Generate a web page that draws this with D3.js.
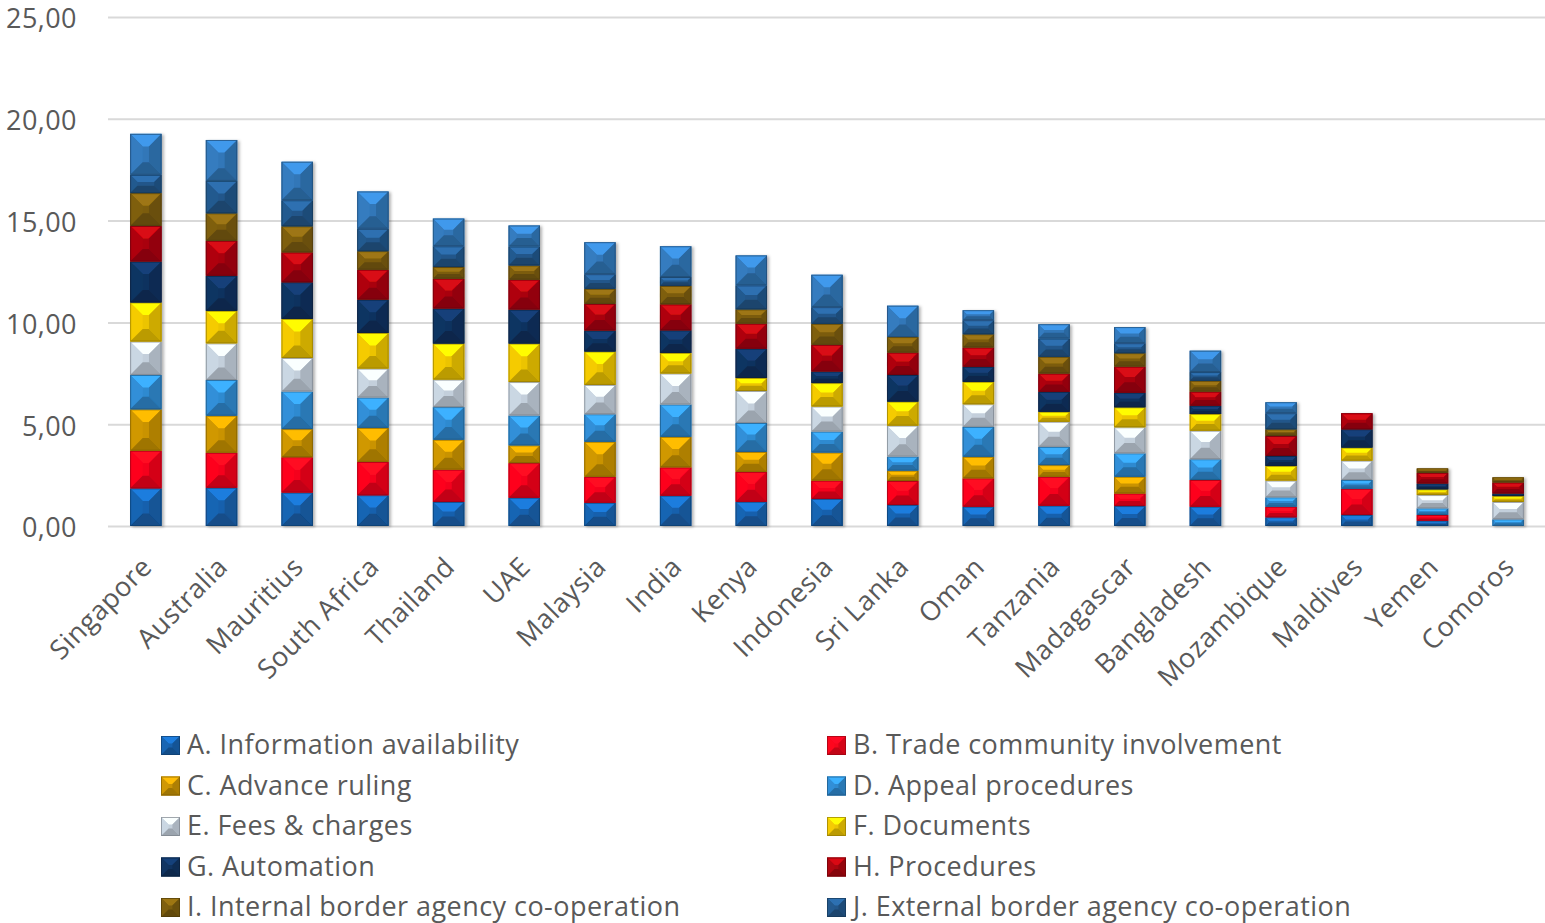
<!DOCTYPE html>
<html>
<head>
<meta charset="utf-8">
<script src="https://cdn.jsdelivr.net/npm/d3@7/dist/d3.min.js"></script>
<style>
  html, body { margin: 0; padding: 0; background: #ffffff; }
  svg { display: block; font-family: "Open Sans", "Noto Sans", sans-serif; }
</style>
</head>
<body>
<svg id="chart" width="1545" height="923"></svg>
<script>
// Countries, ordered by total score
const countries = ["Singapore", "Australia", "Mauritius", "South Africa", "Thailand", "UAE",
  "Malaysia", "India", "Kenya", "Indonesia", "Sri Lanka", "Oman", "Tanzania", "Madagascar",
  "Bangladesh", "Mozambique", "Maldives", "Yemen", "Comoros"];

// Indicator scores per country (same order as countries)
const infoAvailability   = [1.85, 1.88, 1.64, 1.51, 1.18, 1.39, 1.14, 1.49, 1.19, 1.33, 1.03, 0.95, 1.00, 0.98, 0.95, 0.43, 0.54, 0.26, 0.00];
const tradeCommunity     = [1.85, 1.72, 1.74, 1.64, 1.59, 1.70, 1.28, 1.39, 1.47, 0.90, 1.18, 1.39, 1.42, 0.62, 1.31, 0.52, 1.29, 0.28, 0.00];
const advanceRuling      = [2.03, 1.82, 1.38, 1.67, 1.47, 0.87, 1.72, 1.50, 0.98, 1.38, 0.51, 1.06, 0.57, 0.82, 0.00, 0.00, 0.00, 0.00, 0.00];
const appealProcedures   = [1.69, 1.75, 1.85, 1.49, 1.60, 1.47, 1.35, 1.59, 1.42, 1.03, 0.69, 1.47, 0.90, 1.15, 1.02, 0.46, 0.43, 0.33, 0.33];
const feesCharges        = [1.64, 1.80, 1.64, 1.42, 1.35, 1.64, 1.44, 1.52, 1.57, 1.23, 1.52, 1.11, 1.23, 1.28, 1.40, 0.82, 0.95, 0.65, 0.85];
const documents          = [1.92, 1.60, 1.92, 1.75, 1.77, 1.89, 1.64, 1.01, 0.64, 1.15, 1.18, 1.10, 0.49, 0.98, 0.82, 0.72, 0.64, 0.28, 0.29];
const automation         = [2.01, 1.72, 1.80, 1.64, 1.72, 1.67, 1.03, 1.11, 1.44, 0.57, 1.31, 0.74, 0.98, 0.72, 0.41, 0.49, 0.90, 0.29, 0.13];
const procedures         = [1.75, 1.72, 1.47, 1.47, 1.47, 1.47, 1.31, 1.28, 1.23, 1.31, 1.10, 0.95, 0.90, 1.28, 0.69, 0.98, 0.79, 0.52, 0.54];
const internalCoop       = [1.61, 1.35, 1.28, 0.91, 0.57, 0.70, 0.74, 0.90, 0.70, 1.03, 0.76, 0.65, 0.82, 0.66, 0.53, 0.33, 0.00, 0.22, 0.25];
const externalCoop       = [0.90, 1.59, 1.28, 1.10, 1.02, 0.93, 0.72, 0.44, 1.18, 0.82, 0.00, 0.69, 0.90, 0.49, 0.43, 0.79, 0.00, 0.00, 0.00];
const governance         = [2.01, 2.01, 1.89, 1.83, 1.36, 1.03, 1.57, 1.51, 1.47, 1.59, 1.54, 0.49, 0.70, 0.79, 1.05, 0.54, 0.00, 0.00, 0.00];

const seriesNames = [
  "A. Information availability", "B. Trade community involvement", "C. Advance ruling",
  "D. Appeal procedures", "E. Fees & charges", "F. Documents", "G. Automation",
  "H. Procedures", "I. Internal border agency co-operation",
  "J. External border agency co-operation", "K. Governance and impartiality"
];
const seriesValues = [infoAvailability, tradeCommunity, advanceRuling, appealProcedures,
  feesCharges, documents, automation, procedures, internalCoop, externalCoop, governance];
const seriesColors = ["#1761ad", "#f5061c", "#c99305", "#2f8ad0", "#c3cfdb", "#ecc404",
  "#10335f", "#a9060f", "#7b5c0e", "#23578a", "#3277b8"];

// legend rows that fit inside the frame (A–J)
const legendCount = 10;

const yTicks = [0, 5, 10, 15, 20, 25];

const svg = d3.select("#chart");
const plot = { left: 108, right: 1546, top: 17, bottom: 526 };
const textStyle = sel => sel.attr("fill", "#595959").style("font-size", "27px").style("letter-spacing", "0.45px");

const x = d3.scaleBand().domain(countries).range([plot.left, plot.right])
  .paddingInner(0.585).paddingOuter(0.2925);
const y = d3.scaleLinear().domain([0, 25]).range([plot.bottom, plot.top]);
const fmt = v => d3.format(".2f")(v).replace(".", ",");

// drop shadow for the bar columns
const defs = svg.append("defs");
const shadow = defs.append("filter").attr("id", "shadow")
  .attr("x", "-30%").attr("y", "-10%").attr("width", "160%").attr("height", "120%");
shadow.append("feDropShadow").attr("dx", 2).attr("dy", 1).attr("stdDeviation", 1.6)
  .attr("flood-color", "#000").attr("flood-opacity", 0.3);

// gridlines and value axis
const yAxis = d3.axisLeft(y).tickValues(yTicks).tickSize(-(plot.right - plot.left)).tickFormat(fmt).tickPadding(31);
const yg = svg.append("g").attr("transform", `translate(${plot.left},0)`).call(yAxis);
yg.select(".domain").remove();
yg.selectAll(".tick line").attr("stroke", "#d9d9d9").attr("stroke-width", 2);
yg.selectAll(".tick text").call(textStyle).style("font-family", '"Open Sans", sans-serif')
  .attr("dy", "0.4em");

// stacked data
const table = countries.map((c, i) => {
  const row = { country: c };
  seriesNames.forEach((s, j) => { row[s] = seriesValues[j][i]; });
  return row;
});
const stacked = d3.stack().keys(seriesNames)(table);

// beveled block: four facets around a flat centre
function bevel(g, x0, y0, w, h, color) {
  if (h <= 0.2) return;
  const c = d3.color(color);
  const b = Math.min(w, h) * 0.4;
  const x1 = x0 + w, y1 = y0 + h;
  const poly = (pts, fill) => g.append("polygon")
    .attr("points", pts.map(p => p.join(",")).join(" ")).attr("fill", fill);
  g.append("rect").attr("x", x0).attr("y", y0).attr("width", w).attr("height", h).attr("fill", c.formatHex());
  poly([[x0, y0], [x1, y0], [x1 - b, y0 + b], [x0 + b, y0 + b]], c.brighter(0.7).formatHex());
  poly([[x0, y0], [x0 + b, y0 + b], [x0 + b, y1 - b], [x0, y1]], c.brighter(0.1).formatHex());
  poly([[x1, y0], [x1, y1], [x1 - b, y1 - b], [x1 - b, y0 + b]], c.darker(0.4).formatHex());
  poly([[x0, y1], [x0 + b, y1 - b], [x1 - b, y1 - b], [x1, y1]], c.darker(0.65).formatHex());
  g.append("rect").attr("x", x0 + 0.5).attr("y", y0 + 0.5).attr("width", Math.max(0, w - 1))
    .attr("height", Math.max(0, h - 1)).attr("fill", "none")
    .attr("stroke", c.darker(1.3).formatHex()).attr("stroke-width", 1).attr("stroke-opacity", 0.7);
}

// columns
const cols = svg.append("g").attr("class", "columns");
countries.forEach((c, i) => {
  const g = cols.append("g").attr("filter", "url(#shadow)");
  stacked.forEach((layer, j) => {
    const d = layer[i];
    const yTop = y(d[1]), yBot = y(d[0]);
    bevel(g, x(c), yTop, x.bandwidth(), yBot - yTop, seriesColors[j]);
  });
});

// category labels
svg.append("g").selectAll("text").data(countries).join("text")
  .attr("transform", d => `translate(${x(d) + x.bandwidth() / 2 + 1},${plot.bottom + 36}) rotate(-45)`)
  .attr("text-anchor", "end").attr("dy", "0.35em")
  .call(textStyle).text(d => d);

// legend, two columns
const legend = svg.append("g");
seriesNames.slice(0, legendCount).forEach((s, j) => {
  const col = j % 2, row = Math.floor(j / 2);
  const lx = col === 0 ? 161 : 827, ly = 745 + row * 40.5;
  const g = legend.append("g");
  bevel(g, lx, ly - 9, 19, 19, seriesColors[j]);
  g.append("text").attr("x", lx + 26).attr("y", ly).attr("dy", "0.35em")
    .call(textStyle).text(s);
});
</script>
</body>
</html>
